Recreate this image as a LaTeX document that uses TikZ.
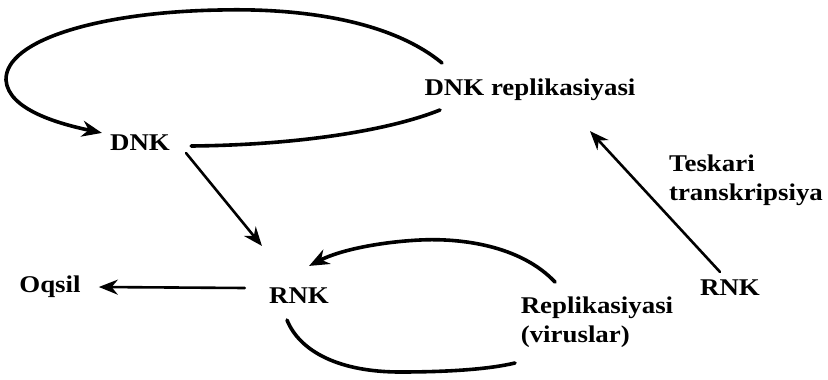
\documentclass[tikz,border=0pt]{standalone}
\usepackage{fontspec}
\setmainfont{Liberation Serif}[FakeStretch=1.12]
\usetikzlibrary{arrows.meta}
\tikzset{
  lbl/.style={font=\bfseries\fontsize{24}{29}\selectfont, inner sep=2pt},
  cycleline/.style={line width=3.6pt, line cap=round},
  arrowhead/.style={-{Stealth[length=20pt,width=16pt]}},
  arr/.style={line width=2.6pt, line cap=round, -{Stealth[length=19pt,width=15pt]}},
}
\begin{document}
\begin{tikzpicture}[x=1pt,y=-1pt]
\useasboundingbox (0,0) rectangle (828,380);
\node[lbl] (dnk) at (140,143) {DNK};
\node[lbl] (dnkrep) at (530,90) {DNK replikasiyasi};
\node[lbl] (rnk) at (299,296) {RNK};
\node[lbl] (oqsil) at (50,287) {Oqsil};
\node[lbl,align=left] (rep) at (597,322) {Replikasiyasi\\(viruslar)};
\node[lbl] (rnkv) at (730,288) {RNK};
\node[lbl,align=left] (tesk) at (746,180) {Teskari\\transkripsiya};
% DNK replikasiyasi loop
\coordinate (bigtop) at (442,63);
\coordinate (bigbot) at (440,110);
\draw[cycleline,arrowhead] (bigtop) .. controls (390,20) and (300,8) .. (220,10)
  .. controls (100,12) and (5,40) .. (6,80)
  .. controls (8,110) and (60,124) .. ([xshift=-6pt]dnk.north west);
\draw[cycleline] ([xshift=19pt,yshift=-3pt]dnk.east) .. controls (300,145) and (390,130) .. (bigbot);
% RNK replikasiyasi loop
\coordinate (smalltop) at (555,282);
\coordinate (smallbot) at (515,363);
\draw[cycleline,arrowhead] (smalltop) .. controls (520,245) and (460,238) .. (420,240)
  .. controls (380,242) and (340,250) .. ([xshift=-22pt,yshift=20pt]rnk.north east);
\draw[cycleline] ([xshift=-12pt,yshift=-14pt]rnk.south) .. controls (300,352) and (340,372) .. (400,372)
  .. controls (450,372) and (490,369) .. (smallbot);
% straight arrows
\draw[arr] ([xshift=14pt]dnk.south east) -- ([xshift=-5pt,yshift=40pt]rnk.north west);
\draw[arr] ([xshift=-22pt,yshift=8pt]rnk.west) -- ([xshift=16pt]oqsil.east);
\draw[arr] ([xshift=-10pt,yshift=6pt]rnkv.north) -- ([xshift=60pt,yshift=-28pt]dnkrep.south);
\end{tikzpicture}
\end{document}
